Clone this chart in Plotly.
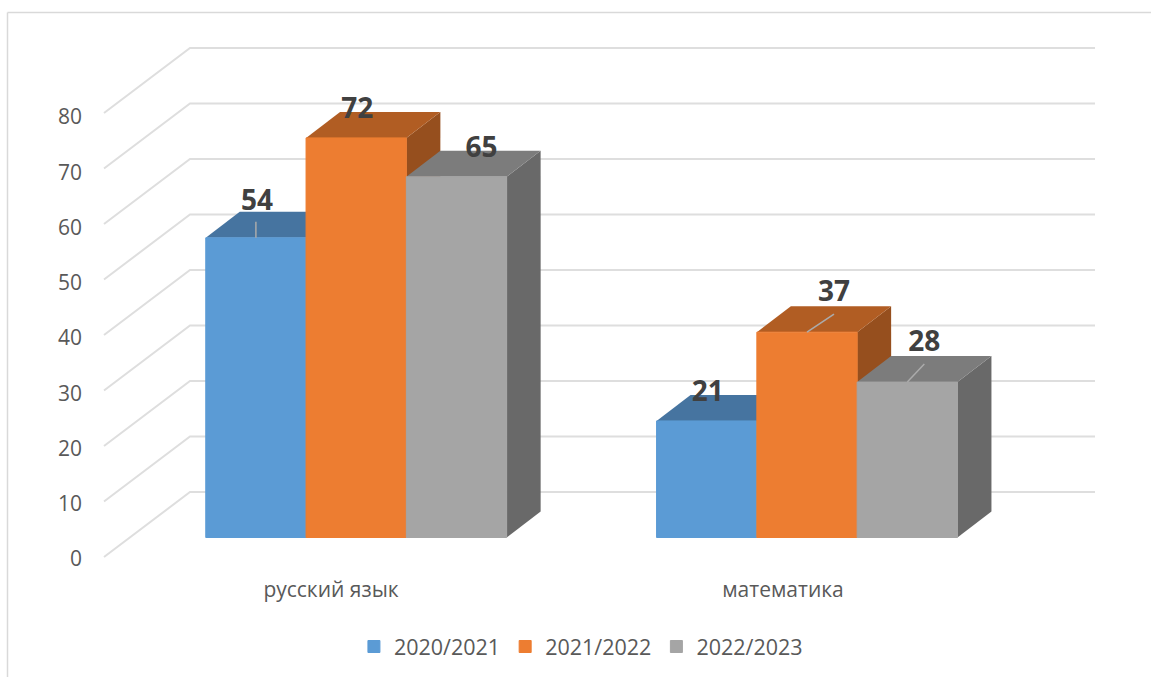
import plotly.graph_objects as go

categories = ["русский язык", "математика"]
series_names = ["2020/2021", "2021/2022", "2022/2023"]
values_2020 = [54, 21]
values_2021 = [72, 37]
values_2022 = [65, 28]
axis_ticks = [0, 10, 20, 30, 40, 50, 60, 70, 80]

W, H = 1151, 677
PX_PER_UNIT = 5.55
BASE_PX = 537.5
CENTER0_PX = 356.2
GROUP_PX = 450.8
BAR_PX = 100.3


def xu(px):
    return px / GROUP_PX


def yu(px):
    return px / PX_PER_UNIT


x_range = [xu(-CENTER0_PX), xu(W - CENTER0_PX)]
y_range = [yu(BASE_PX - H), yu(BASE_PX)]
TICK_SCALE = 5.525
TICK_ZERO_PX = 559
tick_range = [(TICK_ZERO_PX - H) / TICK_SCALE, TICK_ZERO_PX / TICK_SCALE]

front_fill = ["#5B9BD5", "#ED7D31", "#A5A5A5"]
top_fill = ["#4674A0", "#B15D23", "#7C7C7C"]
side_fill = ["#3A6083", "#964F1E", "#696969"]
all_values = [values_2020, values_2021, values_2022]

BAR_W = BAR_PX / GROUP_PX
DX, DY = xu(34), yu(26)

fig = go.Figure()

# gridlines: back wall plus the diagonal on the side wall
gx, gy = [], []
for v in axis_ticks:
    gx += [xu(104 - CENTER0_PX), xu(190 - CENTER0_PX), xu(1095 - CENTER0_PX), None]
    gy += [v + yu(BASE_PX - 557), v + yu(BASE_PX - 492), v + yu(BASE_PX - 492), None]
fig.add_trace(go.Scatter(x=gx, y=gy, mode="lines", showlegend=False, hoverinfo="skip",
                         line=dict(color="#DEDEDE", width=2)))

# side and top faces, painted left to right
for s, vals in enumerate(all_values):
    for c, v in enumerate(vals):
        left = c + (s - 1.5) * BAR_W
        right = left + BAR_W
        fig.add_trace(go.Scatter(
            x=[right, right + DX, right + DX, right, right],
            y=[0, DY, v + DY, v, 0],
            mode="lines", fill="toself", fillcolor=side_fill[s],
            line=dict(width=0), showlegend=False, hoverinfo="skip"))
        fig.add_trace(go.Scatter(
            x=[left, left + DX, right + DX, right, left],
            y=[v, v + DY, v + DY, v, v],
            mode="lines", fill="toself", fillcolor=top_fill[s],
            line=dict(width=0), showlegend=False, hoverinfo="skip"))

# front faces
for s, vals in enumerate(all_values):
    fig.add_trace(go.Bar(x=[0, 1], y=vals, name=series_names[s], yaxis="y2",
                         marker=dict(color=front_fill[s], line=dict(width=1, color=front_fill[s])),
                         hoverinfo="skip"))

# data labels and leader lines
label_dx = [[1, 1], [1, 27], [25, 17]]
label_dy = [[35, 27], [27, 38], [27, 38]]
leader_dx = [[0, None], [None, 27], [None, 17]]
leader_dy = [[16, None], [None, 18], [None, 18]]
lx, ly, tx, ty, tt = [], [], [], [], []
for s, vals in enumerate(all_values):
    for c, v in enumerate(vals):
        cx = c + (s - 1) * BAR_W
        tx.append(cx + xu(label_dx[s][c]))
        ty.append(v + yu(label_dy[s][c]))
        tt.append(str(v))
        if leader_dx[s][c] is not None:
            lx += [cx, cx + xu(leader_dx[s][c]), None]
            ly += [v, v + yu(leader_dy[s][c]), None]
fig.add_trace(go.Scatter(x=lx, y=ly, yaxis="y2", mode="lines", showlegend=False, hoverinfo="skip",
                         line=dict(color="#ABABAB", width=1.5)))
fig.add_trace(go.Scatter(x=tx, y=ty, yaxis="y2", mode="text", text=tt, textposition="middle center",
                         showlegend=False, hoverinfo="skip",
                         textfont=dict(family="Open Sans", size=28, color="#404040", weight="bold")))

# carrier for the value axis
fig.add_trace(go.Scatter(x=[0], y=[0], yaxis="y3", mode="markers", showlegend=False, hoverinfo="skip",
                         marker=dict(opacity=0)))

category_tick_px = [331, 783]
fig.update_layout(
    width=W, height=H, margin=dict(l=0, r=0, t=0, b=0, autoexpand=False),
    paper_bgcolor="white", plot_bgcolor="white",
    font=dict(family="Open Sans", color="#595959", size=18),
    barmode="group", bargap=1 - 3 * BAR_W, bargroupgap=0,
    showlegend=True,
    legend=dict(orientation="h", x=0.3075, y=0.045, xanchor="left", yanchor="middle",
                font=dict(size=21.5, color="#595959"), itemwidth=30,
                bgcolor="rgba(0,0,0,0)"),
    xaxis=dict(range=x_range, domain=[0, 1], showgrid=False, zeroline=False, showline=False,
               tickmode="array",
               tickvals=[(p - CENTER0_PX) / GROUP_PX for p in category_tick_px],
               ticktext=categories, ticks="", anchor="free", position=1 - 575 / H,
               tickfont=dict(size=21, color="#595959"), tickangle=0),
    yaxis=dict(range=y_range, domain=[0, 1], visible=False, fixedrange=True),
    yaxis2=dict(range=y_range, domain=[0, 1], overlaying="y", visible=False),
    yaxis3=dict(range=tick_range, domain=[0, 1], overlaying="y", anchor="free", position=82 / W,
                side="left", showgrid=False, zeroline=False, showline=False, ticks="",
                tickmode="array", tickvals=axis_ticks, ticktext=[str(t) for t in axis_ticks],
                tickfont=dict(size=21, color="#595959")),
    shapes=[
        dict(type="line", xref="paper", yref="paper", x0=7.5 / W, x1=7.5 / W, y0=0, y1=1 - 12.5 / H,
             line=dict(color="#D9D9D9", width=1.5)),
        dict(type="line", xref="paper", yref="paper", x0=7.5 / W, x1=1, y0=1 - 12.5 / H, y1=1 - 12.5 / H,
             line=dict(color="#D9D9D9", width=1.5)),
    ],
)

fig.write_html("out.html", config={"displayModeBar": False},
               post_script="document.body.style.margin='0';")
